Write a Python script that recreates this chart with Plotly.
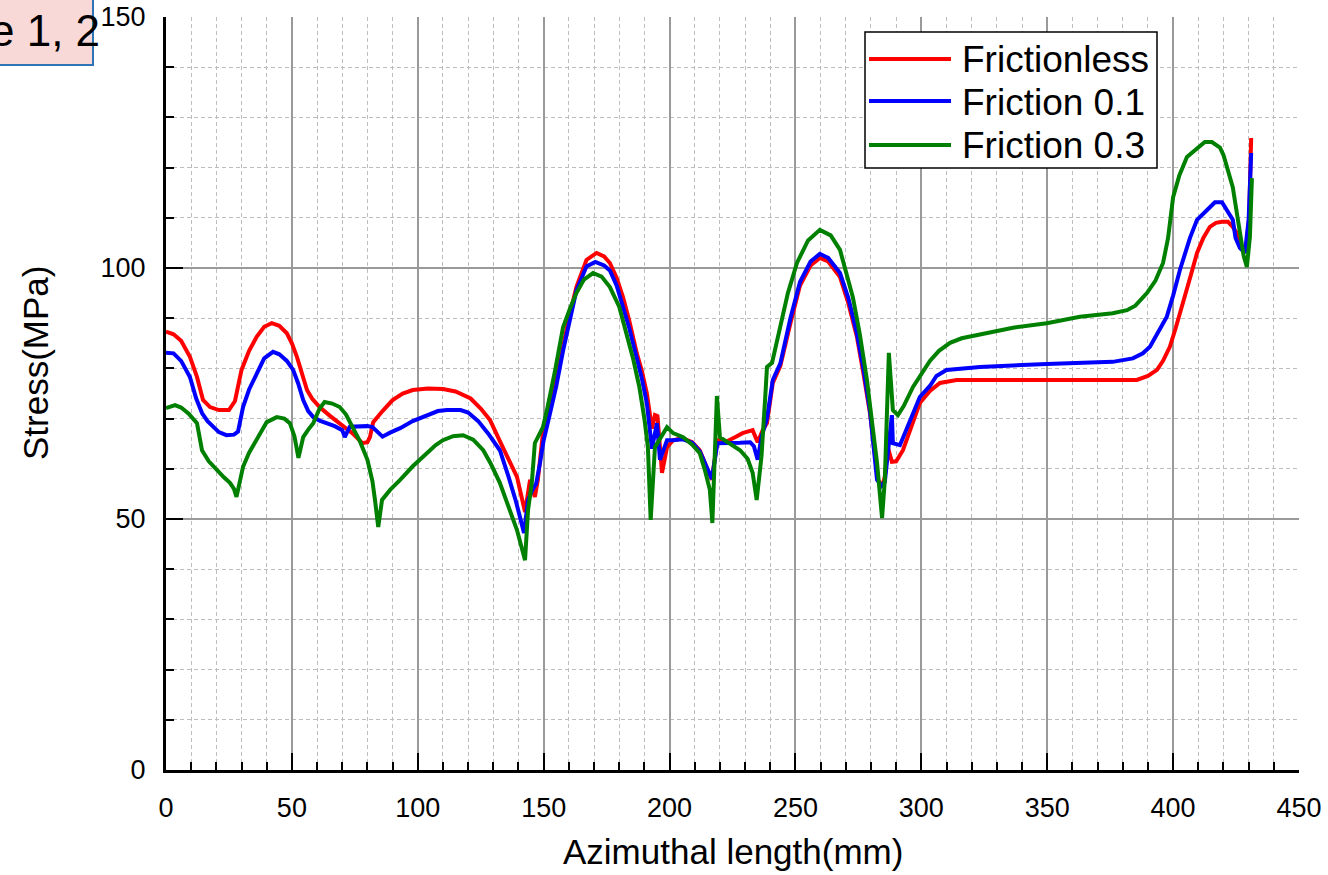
import plotly.graph_objects as go

# ---------------- data ----------------
series_names = ["Frictionless", "Friction 0.1", "Friction 0.3"]
series_colors = ["#ff0000", "#0000ff", "#008000"]

x_frictionless = [0, 3, 6, 9.5, 12.3, 14.7, 17.5, 21, 25, 27.4, 30, 33, 36, 39, 42, 45, 48, 50, 52, 54, 56, 58,
                  61, 65, 69, 74, 78, 80, 81, 82.3, 86, 90, 94, 98, 104, 110, 115, 118, 121, 125, 128.7, 132.6,
                  135.4, 139.4, 142.6, 143.8, 144.6, 146.5, 147.7, 149.7, 152.5, 155, 157.7, 160, 163, 167, 171,
                  174, 176.3, 179, 181.5, 184, 187, 189, 191, 193, 194.2, 195.2, 197, 199, 201.4, 205, 209, 212,
                  214, 216.8, 219, 222.8, 226, 229, 233, 235, 237, 238.7, 241, 244, 248, 251.8, 256, 259.7, 263,
                  267.7, 271, 274.4, 277, 279.6, 282.8, 284.5, 285.5, 286.7, 288.3, 290, 292.7, 296, 299.4, 303.4,
                  307.4, 314, 330, 350, 370, 385.6, 390, 393.6, 396, 398.7, 401, 404, 407, 409.5, 412, 414.6, 417,
                  419.4, 421.8, 423.5, 425.3, 426.5, 427.7, 429, 430.2, 431]
y_frictionless = [87.3, 86.8, 85.5, 82.3, 78.3, 73.7, 72.3, 71.7, 71.7, 73.5, 79.7, 83.5, 86.3, 88.3, 89.0, 88.5, 87,
                  85, 82.3, 79, 75.7, 74, 72.3, 70.6, 69.1, 67.1, 65.1, 65.3, 66.3, 69.3, 71.5, 73.7, 75, 75.7, 76,
                  75.9, 75.4, 74.8, 74, 72, 69.7, 65.5, 62.4, 58.4, 51.4, 55.8, 57.8, 54.4, 57.8, 67.1, 72, 77.5,
                  84.3, 90, 96.2, 101.6, 103.0, 102.3, 101, 98, 94.2, 89.5, 83, 79.5, 75, 68, 70.7, 70.5, 59.2, 64.3,
                  65.7, 66.1, 65.3, 63.7, 61.2, 57.8, 65.7, 65.5, 66.3, 67.1, 67.7, 65.3, 67.7, 69.1, 77.1, 80.5, 89,
                  96.5, 100.5, 102, 101.3, 98.2, 93, 86.3, 79, 71.1, 57.8, 56.5, 58.4, 64.3, 61.4, 61.5, 63.7, 68.5,
                  73.1, 75.5, 77.1, 77.7, 77.7, 77.7, 77.7, 77.7, 78.5, 79.7, 81.5, 84.3, 88, 93, 98.5, 103, 106,
                  108.2, 109, 109.2, 109.2, 108.3, 107, 105, 103.6, 103.6, 110, 125.9]

x_friction01 = [0, 3, 6, 9.5, 12, 14.3, 16.5, 18.7, 21, 24, 27, 28.6, 30.6, 33, 36, 39, 42.5, 45, 48, 50.5, 52.5,
                54.5, 56.5, 58.5, 61, 64, 67, 70, 71, 73, 76, 80, 82, 84, 86, 89, 93, 98, 103.6, 108, 111.6, 117,
                120, 124, 128, 132.6, 136, 139, 142.2, 143.8, 145.5, 147, 148.5, 150, 152.5, 155, 157.7, 160, 163,
                167, 170.5, 174, 176.3, 179, 181.5, 184, 187, 189, 191, 193, 195, 196.2, 199, 201.4, 205, 209, 212,
                214, 216.8, 219, 224, 228, 232, 233.5, 235, 236.5, 238.7, 241, 244, 248, 251.8, 256, 259.7, 263,
                267.7, 271, 274.4, 277, 279.6, 282.4, 284.2, 285.5, 288.3, 288.7, 291.5, 295, 299.4, 303.4, 306,
                310, 323.3, 349.8, 376, 384, 388, 390.8, 394, 397.5, 400, 402.7, 406.7, 409.5, 413.4, 416.6, 419.4,
                421.4, 423.7, 424.8, 426.5, 428.5, 430, 431]
y_friction01 = [83.1, 83, 81.5, 78.3, 74, 71.1, 69.5, 68.4, 67.3, 66.7, 66.8, 67.4, 72.3, 75.8, 79.1, 82, 83.3,
                82.8, 81.5, 79.7, 77, 73.7, 71.5, 70.3, 69.6, 69.1, 68.5, 67.7, 66.3, 68.4, 68.5, 68.5, 68.3, 67.4,
                66.4, 67.2, 68.1, 69.5, 70.7, 71.5, 71.7, 71.7, 71.2, 69.5, 67, 63.7, 58.5, 53.5, 47.2, 53.8, 55.8,
                57, 61, 65.7, 71, 76.5, 83.5, 89, 95.5, 100.3, 101.2, 100.5, 99.5, 96.5, 92.5, 88, 82, 78, 73, 64,
                69.1, 61.8, 65.7, 65.7, 65.9, 65.2, 63.5, 61, 58, 65.1, 65.1, 65.2, 65.3, 64.5, 61.8, 66.3, 70, 77.7,
                81, 90, 97.2, 101.3, 102.8, 102, 99, 94, 87, 80, 71.5, 57.8, 56.6, 57.4, 70.7, 65.1, 64.7, 69, 74.3,
                76.5, 78.5, 79.7, 80.3, 80.9, 81.3, 82, 83, 84.3, 87, 90.3, 94.5, 99.6, 106, 109.6, 111.5, 113.1,
                113.1, 111.5, 109.6, 106, 104, 103, 109.6, 122.9]

x_friction03 = [0, 3.6, 6, 9, 12.3, 14.3, 17, 20, 23, 25.4, 27, 28, 30.6, 33, 37.3, 40, 44, 47, 49.2, 51, 52.6,
                54.5, 56.5, 58.5, 61, 63, 66, 69, 71.5, 74.3, 77, 80, 82, 83, 84.3, 85.8, 89, 93, 98, 103.6, 107,
                110, 114, 118, 122, 126, 129, 132.6, 136, 139.4, 142.6, 143.8, 145.3, 146.5, 149.7, 151.3, 154.5,
                157.7, 160.5, 163, 166, 169.6, 173, 176.3, 180, 183, 185.5, 188, 190, 191.4, 192.5, 194.2, 196.2,
                199, 201.4, 205.4, 209, 212, 214, 216, 217, 218.8, 220, 224, 228, 231, 233, 234.6, 236.5, 238,
                238.7, 240.7, 244, 247, 250.6, 255, 259.7, 264, 267.7, 270, 272.8, 275.5, 278.4, 280, 282.4, 284.4,
                285.5, 287.1, 288.7, 290.7, 293, 296.7, 300, 303.4, 307, 311.4, 316, 323.3, 336.4, 349.8, 363, 376,
                381.7, 385, 389.6, 393, 396, 398, 400, 402.5, 405.5, 409.5, 412.6, 415.4, 418.6, 420, 422, 423.7,
                425.3, 426.5, 428, 429.3, 430.5, 431.3]
y_friction03 = [72.1, 72.7, 72.2, 71, 69.1, 63.7, 61.5, 59.8, 58.3, 57.2, 56, 54.4, 60.4, 63.2, 67.1, 69.3, 70.3,
                70, 69.1, 66.5, 62.2, 66.3, 67.8, 69.1, 72, 73.3, 73, 72.3, 70.8, 68.3, 65.5, 61.8, 57.5, 53.8, 48.4,
                53.8, 55.8, 57.8, 60.5, 63.1, 64.7, 65.7, 66.5, 66.7, 65.8, 63.7, 61, 57.2, 52.5, 47.8, 41.8, 51.8,
                57.2, 65.1, 68.3, 71.7, 79.5, 88.2, 92, 95, 97.7, 99, 98.3, 96.2, 92.3, 87, 82, 76.3, 70, 64.3, 49.8,
                64.3, 66.1, 68.3, 67.1, 66.3, 64.8, 63.1, 59.8, 55.8, 49.2, 74.5, 66.3, 65.1, 63.7, 62, 59.2, 53.8,
                62.4, 74.3, 80.3, 81.1, 88, 95, 101, 105.5, 107.6, 106.5, 103.6, 99.5, 94.2, 87, 77.7, 71, 61.2,
                50.2, 57.8, 83.1, 71.7, 70.7, 72.5, 76.3, 79, 81.5, 83.5, 85.1, 86, 86.7, 88.1, 89, 90.3, 91, 91.6,
                92.5, 95, 97.5, 101, 106, 114.1, 118.5, 122.1, 123.8, 125.1, 125.1, 124, 122.5, 119, 116.1, 111,
                107.6, 102.5, 100.2, 106.2, 117.9]

x_ticks = [0, 50, 100, 150, 200, 250, 300, 350, 400, 450]
y_ticks = [0, 50, 100, 150]
x_title = "Azimuthal length(mm)"
y_title = "Stress(MPa)"
corner_label = "e 1, 2"

# ---------------- geometry helpers (pixel -> paper) ----------------
W, H = 1328, 875
L, R, T, B = 166, 29, 17, 105
PW, PH = W - L - R, H - T - B


def px(xp):
    return (xp - L) / PW


def py(yp):
    return (H - B - yp) / PH


FONT = "Liberation Sans, Arial, sans-serif"

fig = go.Figure()
xs = [x_frictionless, x_friction01, x_friction03]
ys = [y_frictionless, y_friction01, y_friction03]
for name, color, xv, yv in zip(series_names, series_colors, xs, ys):
    fig.add_trace(go.Scatter(x=xv, y=yv, mode="lines", name=name,
                             line=dict(color=color, width=4), showlegend=False))

axis_common = dict(
    automargin=False,
    ticks="inside", ticklen=17, tickwidth=2, tickcolor="black",
    showline=True, linewidth=3, linecolor="black", mirror=False,
    showgrid=True, gridcolor="#9a9a9a", gridwidth=1.5, zeroline=False,
    tickfont=dict(family=FONT, size=27, color="black"),
    minor=dict(dtick=10, ticks="inside", ticklen=8, tickwidth=2, tickcolor="black",
               showgrid=True, gridcolor="#bdbdbd", gridwidth=1, griddash="4px,3px"),
)
fig.update_xaxes(range=[0, 450], tickvals=x_ticks, ticklabelstandoff=12, **axis_common)
fig.update_yaxes(range=[0, 150], tickvals=y_ticks, ticklabelstandoff=12, **axis_common)

shapes = []
annotations = []

# corner label box (partially off-canvas like the reference)
shapes.append(dict(type="rect", xref="paper", yref="paper", x0=px(-6), x1=px(93), y0=py(65), y1=py(-6),
                   fillcolor="#f8d9d7", line=dict(color="#2e75b6", width=2), layer="above"))
annotations.append(dict(text=corner_label, xref="paper", yref="paper", x=px(102), y=py(31),
                        xanchor="right", yanchor="middle", showarrow=False,
                        font=dict(family=FONT, size=44, color="black")))

# legend (manual, to match the long line samples)
shapes.append(dict(type="rect", xref="paper", yref="paper", x0=px(865), x1=px(1157), y0=py(168), y1=py(32),
                   fillcolor="white", line=dict(color="black", width=1.5), layer="above"))
row_y = [59, 101, 145]
for name, color, ry in zip(series_names, series_colors, row_y):
    shapes.append(dict(type="line", xref="paper", yref="paper", x0=px(869), x1=px(951), y0=py(ry), y1=py(ry),
                       line=dict(color=color, width=4), layer="above"))
    annotations.append(dict(text=name, xref="paper", yref="paper", x=px(960), y=py(ry + 1),
                            xanchor="left", yanchor="middle", showarrow=False,
                            font=dict(family=FONT, size=37, color="black")))

# axis titles
annotations.append(dict(text=x_title, xref="paper", yref="paper", x=0.5, y=py(852),
                        xanchor="center", yanchor="middle", showarrow=False,
                        font=dict(family=FONT, size=35, color="black")))
annotations.append(dict(text=y_title, xref="paper", yref="paper", x=px(35), y=py(363), textangle=-90,
                        xanchor="center", yanchor="middle", showarrow=False,
                        font=dict(family=FONT, size=35, color="black")))

fig.update_layout(
    width=W, height=H,
    margin=dict(l=L, r=R, t=T, b=B, autoexpand=False),
    paper_bgcolor="white", plot_bgcolor="white",
    showlegend=False,
    shapes=shapes, annotations=annotations,
)

fig.write_html(
    "out.html",
    config={"displayModeBar": False},
    post_script="document.body.style.margin='0';document.body.style.padding='0';"
                "document.body.style.overflow='hidden';",
)
